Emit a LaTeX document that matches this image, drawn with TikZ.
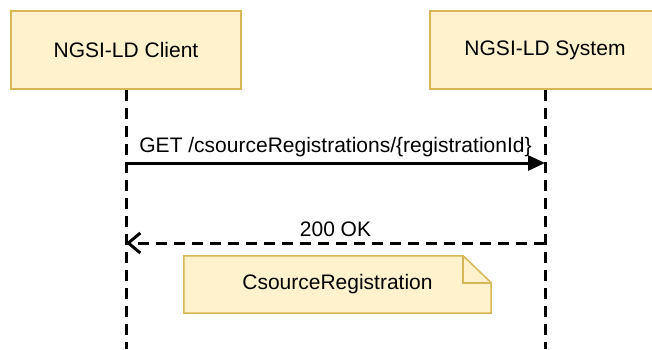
\documentclass[tikz,border=0pt]{standalone}
\usepackage{fontspec}
\setmainfont{Liberation Sans}
\usepackage{tikz}
\usetikzlibrary{arrows.meta, calc, positioning, backgrounds}
\definecolor{notefill}{HTML}{FFF2CC}
\definecolor{notedraw}{HTML}{D6B656}

\begin{document}
\begin{tikzpicture}[
        x=1pt, y=1pt,
        actor/.style={draw=notedraw, fill=notefill, line width=1.5pt, minimum width=230pt, minimum height=78pt},
        lifeline/.style={line width=3pt, dash pattern=on 11pt off 7pt},
        msg/.style={line width=3pt},
        every node/.style={font=\fontsize{21}{25}\selectfont}
    ]
        \useasboundingbox (0,0) rectangle (652,349);

        \node[actor] (client) at (126,299) {NGSI-LD Client};
        \node[actor] (system) at (545,299) {NGSI-LD System};

        \coordinate (client-end) at (126,0);
        \coordinate (system-end) at (545,0);
        \draw[lifeline] (client.south) -- (client-end);
        \draw[lifeline] (system.south) -- (system-end);

        \coordinate (client-req) at (126,186);
        \coordinate (system-req) at (545,186);
        \coordinate (client-rep) at (126,106);
        \coordinate (system-rep) at (545,106);

        \draw[msg, -{Triangle[length=17pt, width=15pt]}] (client-req) -- node[above=1pt] (getlabel) {GET /csourceRegistrations/\{registrationId\}} (system-req);
        \draw[msg, dash pattern=on 11pt off 7pt, -{Straight Barb[length=12pt, width=20pt, line width=3pt]}] (system-rep) -- node[above=1pt] (oklabel) {200 OK} (client-rep);

        % note with folded corner
        \node[minimum width=307pt, minimum height=57pt] (note) at (337.5,64.5) {CsourceRegistration};
        \begin{scope}[on background layer]
            \draw[draw=notedraw, fill=notefill, line width=1.5pt] (note.south west) -- (note.north west) -- ($(note.north east)+(-28,0)$) -- ($(note.north east)+(0,-27)$) -- (note.south east) -- cycle;
            \draw[draw=notedraw, line width=1.5pt] ($(note.north east)+(-28,0)$) -- ($(note.north east)+(-28,-27)$) -- ($(note.north east)+(0,-27)$);
        \end{scope}
    \end{tikzpicture}
\end{document}
